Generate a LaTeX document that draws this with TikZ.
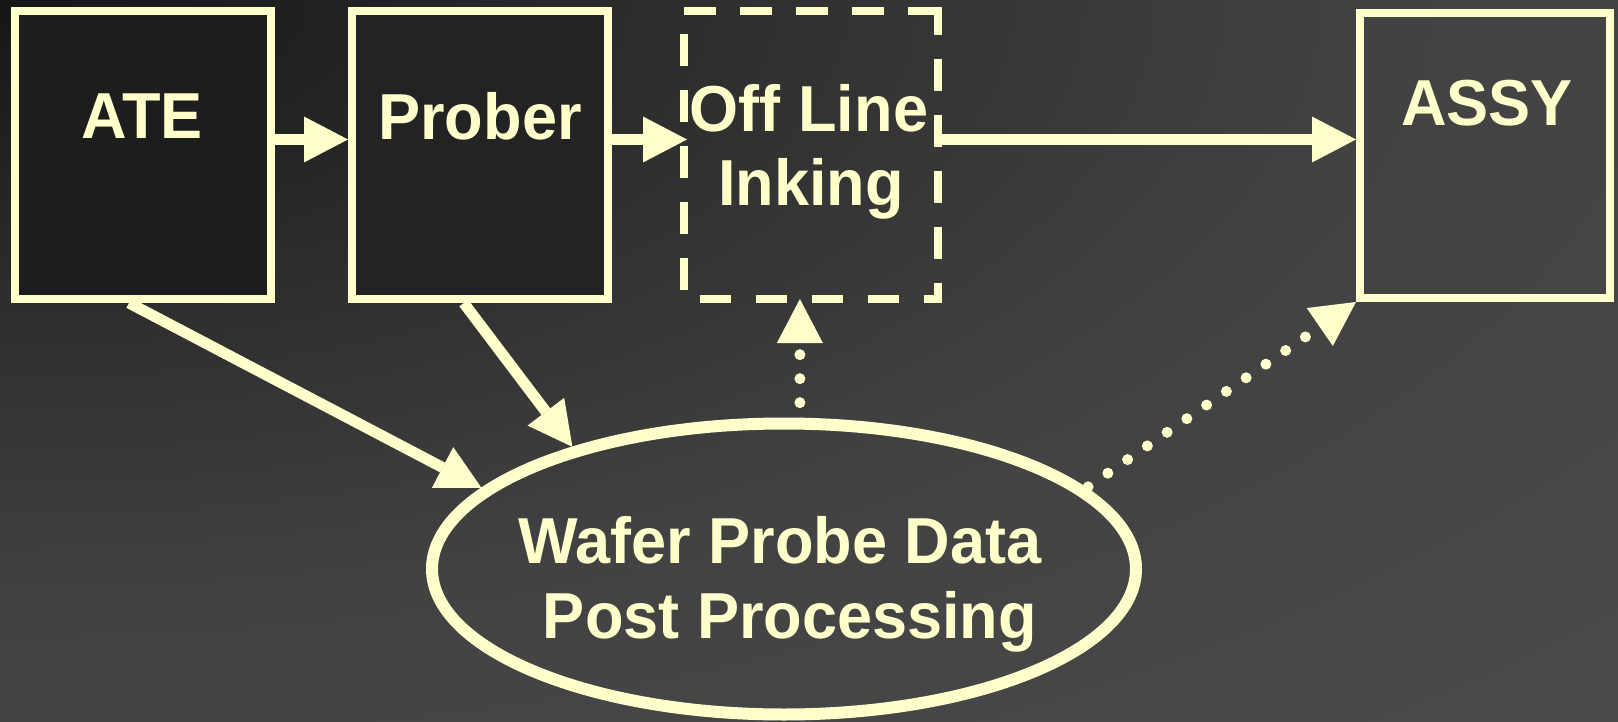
\documentclass[tikz,border=0pt]{standalone}
\usepackage{fontspec}
\setmainfont[FakeStretch=0.97]{Liberation Sans}
\usetikzlibrary{arrows.meta,shapes.geometric}
\definecolor{ink}{HTML}{FFFFCC}
\definecolor{bgD}{HTML}{4A4A4A}
\definecolor{fillATE}{HTML}{1D1D1D}
\definecolor{fillProber}{HTML}{232323}
\tikzset{
  stepbox/.style={rectangle, draw=ink, line width=8pt, inner sep=0pt, minimum height=287.5pt},
  lbl/.style={text=ink, font=\bfseries\fontsize{65}{78}\selectfont, inner sep=0pt, anchor=base},
  tip/.style={-{Triangle[length=44pt,width=46pt,line width=0pt]}},
  conn/.style={draw=ink, line width=11pt, tip},
  dotconn/.style={draw=ink, line width=11pt, line cap=round, dash pattern=on 0pt off 24pt, tip},
  dashside/.style={draw=ink, line width=8pt, line cap=rect, dash pattern=on 23.5pt off 32.5pt},
}
\begin{document}
\begin{tikzpicture}[x=1pt,y=-1pt]
\useasboundingbox (0,0) rectangle (1618,722);
% background: grey levels growing outwards from the upper left corner
\begin{scope}
  \clip (0,0) rectangle (1618,722);
  \fill[bgD] (0,0) rectangle (1618,722);
  \foreach \v in {73,72,...,22}{
    \pgfmathsetmacro\rr{(\v+0.5<=47) ? 0.45*(\v+0.5-22)/25 : ((\v+0.5<=66) ? 0.45+0.4*(\v+0.5-47)/19 : 0.85+0.56*(\v+0.5-66)/8)}
    \definecolor{bgstep}{RGB}{\v,\v,\v}
    \fill[bgstep] (0,0) ellipse [x radius={1618*\rr}, y radius={722*\rr}];
  }
\end{scope}

% process boxes
\node[stepbox, fill=fillATE, minimum width=256pt] (ate) at (143,155.25) {};
\node[stepbox, fill=fillProber, minimum width=255.5pt] (prober) at (479.75,155.25) {};
\node[stepbox, draw=none, outer sep=0pt, minimum width=254.5pt] (off) at (810.75,155.25) {};
\node[stepbox, minimum width=250pt, minimum height=285pt] (assy) at (1485,155.5) {};
\node[ellipse, draw=ink, line width=12pt, inner sep=0pt, minimum width=704pt, minimum height=291pt] (wp) at (784,569) {};

% optional step: dashed outline, one side at a time
\draw[dashside, dash phase=51.5pt] (off.north west) -- (off.north east);
\draw[dashside, dash phase=4pt] (off.north east) -- (off.south east);
\draw[dashside, dash phase=13pt] (off.south east) -- (off.south west);
\draw[dashside, dash phase=43pt] (off.south west) -- (off.north west);

% labels
\node[lbl] (tate) at (142,139) {ATE};
\node[lbl] (tprober) at (480,140) {Prober};
\node[lbl] (toff1) at (809,132) {Off Line};
\node[lbl] (toff2) at (811,206) {Inking};
\node[lbl] (tassy) at (1487,126) {ASSY};
\node[lbl] (twp1) at (780,563) {Wafer Probe Data};
\node[lbl] (twp2) at (790,638) {Post Processing};

% material flow
\draw[conn] ([yshift=15.75pt]ate.east) -- ([yshift=15.75pt]prober.west);
\draw[conn] ([yshift=15.75pt]prober.east) -- ([xshift=3.5pt,yshift=15.75pt]off.west);
\draw[conn] ([yshift=15.75pt]off.east) -- ([yshift=16pt]assy.west);

% data flow
\draw[conn] ([xshift=-14pt]ate.south) -- (wp.165.6);
\draw[conn] ([xshift=-16pt]prober.south) -- (wp.150);
\draw[dotconn, dash phase=9pt] (wp.84) -- (wp.84 |- off.south);
\draw[dotconn, dash phase=22pt] (wp.15) -- (assy.south west);
\end{tikzpicture}
\end{document}
